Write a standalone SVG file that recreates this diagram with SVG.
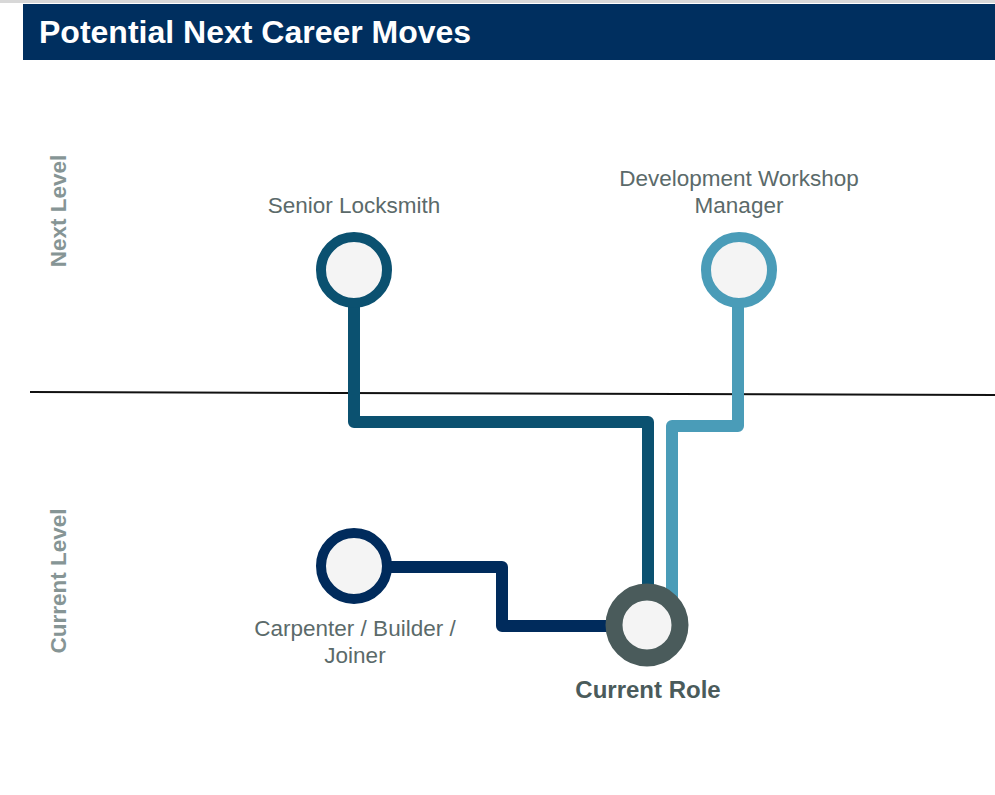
<svg xmlns="http://www.w3.org/2000/svg" width="995" height="795" viewBox="0 0 995 795">
<style>
.lbl{font-family:"Liberation Sans",Arial,sans-serif;font-size:22.5px;fill:#5b6a6a;text-anchor:middle}
.lvl{font-family:"Liberation Sans",Arial,sans-serif;font-size:22.5px;font-weight:bold;fill:#869595;text-anchor:middle}
.path{fill:none;stroke-width:12;stroke-linejoin:round}
.node{fill:#f4f4f4}
</style>
<rect width="995" height="795" fill="#ffffff"/>
<line x1="0" y1="1.5" x2="995" y2="1.5" stroke="#d8d8d8" stroke-width="3"/>
<g id="title">
<rect x="23" y="4" width="972" height="56" fill="#002f5f"/>
<text x="39" y="43" font-family="'Liberation Sans',Arial,sans-serif" font-size="32" font-weight="bold" fill="#ffffff">Potential Next Career Moves</text>
</g>
<g id="levels">
<line x1="30" y1="392" x2="995" y2="395" stroke="#111111" stroke-width="2"/>
<text class="lvl" transform="translate(66,211) rotate(-90)">Next Level</text>
<text class="lvl" transform="translate(66,581) rotate(-90)">Current Level</text>
</g>
<g id="connectors">
<polyline class="path" stroke="#0b5170" points="354,300 354,422 648,422 648,600"/>
<polyline class="path" stroke="#4a9cb8" points="738,300 738,426 672,426 672,605"/>
<polyline class="path" stroke="#002b5c" points="385,567 502,567 502,626 615,626"/>
</g>
<g id="senior-locksmith">
<circle class="node" cx="354" cy="270" r="33" stroke="#0b5170" stroke-width="10"/>
<text class="lbl" x="354" y="213">Senior Locksmith</text>
</g>
<g id="development-workshop-manager">
<circle class="node" cx="739" cy="270" r="33" stroke="#4a9cb8" stroke-width="10"/>
<text class="lbl" x="739" y="186">Development Workshop</text>
<text class="lbl" x="739" y="213">Manager</text>
</g>
<g id="carpenter">
<circle class="node" cx="354" cy="566" r="33" stroke="#002b5c" stroke-width="10"/>
<text class="lbl" x="355" y="636">Carpenter / Builder /</text>
<text class="lbl" x="355" y="663">Joiner</text>
</g>
<g id="current-role">
<circle class="node" cx="647" cy="625" r="33" stroke="#4a5b5b" stroke-width="17"/>
<text x="648" y="698" font-family="'Liberation Sans',Arial,sans-serif" font-size="24" font-weight="bold" fill="#4a5b5b" text-anchor="middle">Current Role</text>
</g>
</svg>
